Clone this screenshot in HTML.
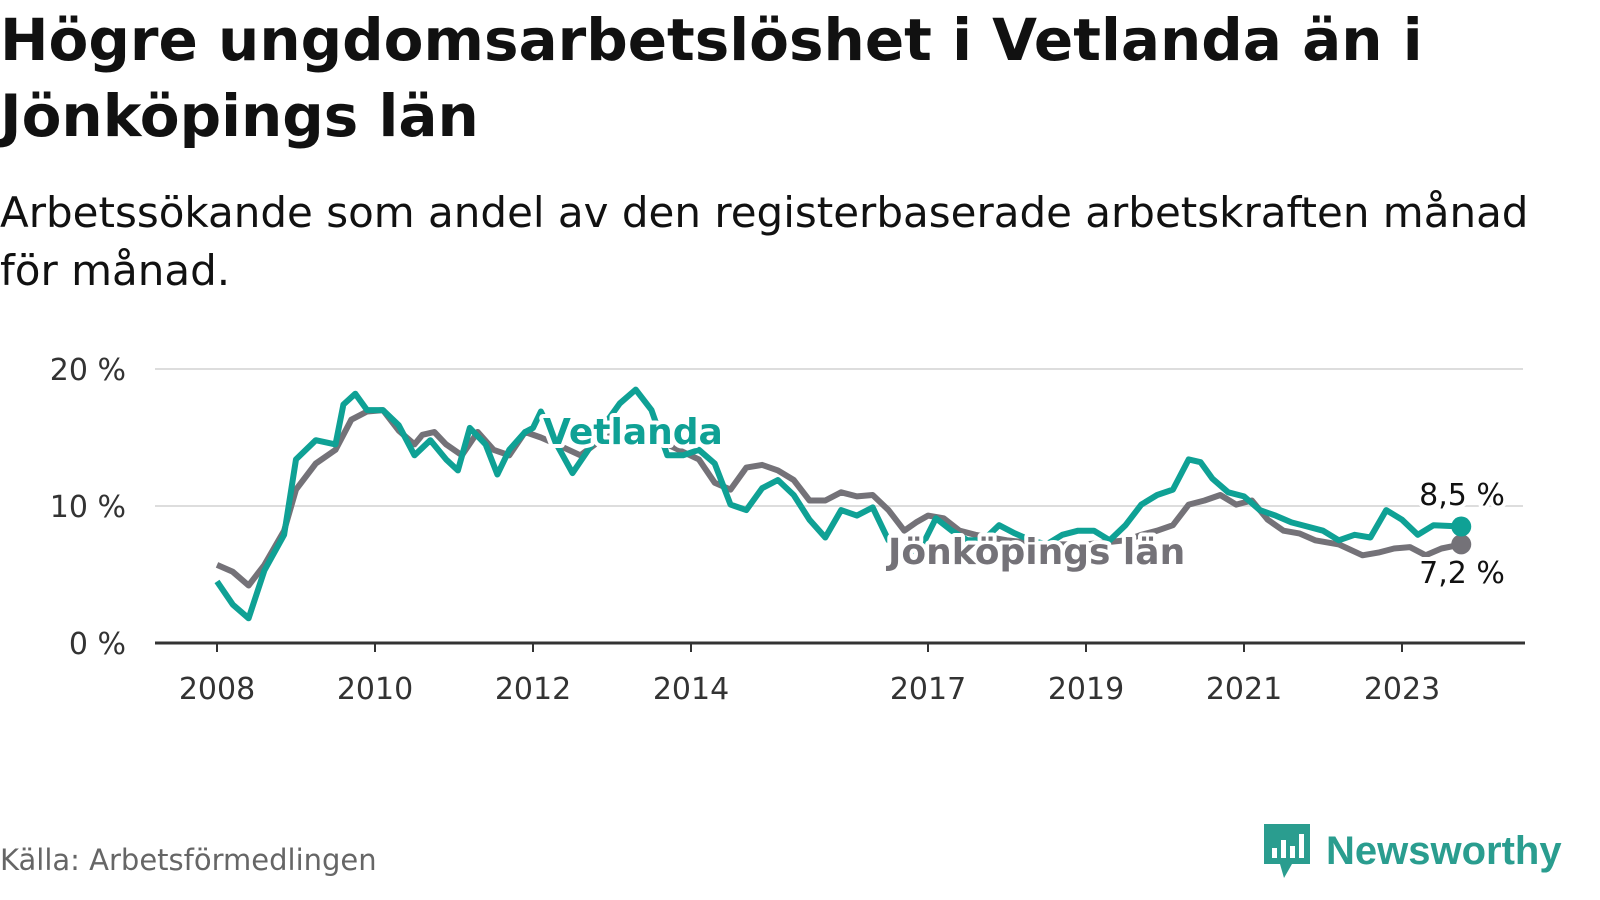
<!DOCTYPE html>
<html><head><meta charset="utf-8"><style>
body{margin:0;width:1600px;height:900px;background:#fff;font-family:"DejaVu Sans",sans-serif;overflow:hidden;position:relative}
h1{position:absolute;left:0;top:2px;margin:0;font-size:58px;line-height:76px;font-weight:bold;color:#111}
.sub{position:absolute;left:0;top:184px;font-size:42px;line-height:58px;color:#111}
.src{position:absolute;left:0;top:843px;font-size:29px;color:#666}
.logo{position:absolute;left:1262px;top:822px;display:flex;align-items:center}
.logo span{font-family:"Liberation Sans",sans-serif;font-size:40px;font-weight:bold;color:#2a9d8f;margin-left:14px}
</style></head><body>
<h1>Högre ungdomsarbetslöshet i Vetlanda än i<br>Jönköpings län</h1>
<div class="sub">Arbetssökande som andel av den registerbaserade arbetskraften månad<br>för månad.</div>
<svg id="chart" width="1600" height="900" style="position:absolute;left:0;top:0;font-family:'DejaVu Sans',sans-serif" xmlns="http://www.w3.org/2000/svg"></svg>
<div class="src">Källa: Arbetsförmedlingen</div>
<div class="logo">
<svg width="50" height="58" viewBox="0 0 50 58"><path d="M2 2h46v40H30l-8 14-4-14H2z" fill="#2a9d8f"/><rect x="10" y="26" width="5" height="10" fill="#fff"/><rect x="19" y="18" width="5" height="18" fill="#fff"/><rect x="28" y="24" width="5" height="12" fill="#fff"/><rect x="37" y="12" width="5" height="24" fill="#fff"/></svg>
<span>Newsworthy</span></div>
<script>
const yTicks=[0,10,20];
const xTickYears=[2008,2010,2012,2014,2017,2019,2021,2023];
const vetT=[2008.0,2008.2,2008.4,2008.6,2008.85,2009.0,2009.25,2009.5,2009.6,2009.75,2009.9,2010.1,2010.3,2010.5,2010.7,2010.9,2011.05,2011.2,2011.4,2011.55,2011.7,2011.9,2012.0,2012.1,2012.3,2012.5,2012.7,2012.9,2013.1,2013.3,2013.5,2013.7,2013.9,2014.1,2014.3,2014.5,2014.7,2014.9,2015.1,2015.3,2015.5,2015.7,2015.9,2016.1,2016.3,2016.5,2016.7,2016.9,2017.1,2017.3,2017.5,2017.7,2017.9,2018.1,2018.3,2018.5,2018.7,2018.9,2019.1,2019.3,2019.5,2019.7,2019.9,2020.1,2020.3,2020.45,2020.6,2020.8,2021.0,2021.2,2021.4,2021.6,2021.8,2022.0,2022.2,2022.4,2022.6,2022.8,2023.0,2023.2,2023.4,2023.75];
const vetV=[4.5,2.8,1.8,5.3,7.9,13.4,14.8,14.5,17.4,18.2,17.0,17.0,15.9,13.7,14.8,13.4,12.6,15.7,14.5,12.3,14.1,15.4,15.7,16.9,14.5,12.4,14.1,15.9,17.5,18.5,17.0,13.7,13.7,14.1,13.1,10.1,9.7,11.3,11.9,10.8,9.0,7.7,9.7,9.3,9.9,7.5,6.6,6.8,9.1,8.2,7.5,7.5,8.6,8.0,7.5,7.2,7.9,8.2,8.2,7.5,8.6,10.1,10.8,11.2,13.4,13.2,12.0,11.0,10.7,9.7,9.3,8.8,8.5,8.2,7.5,7.9,7.7,9.7,9.0,7.9,8.6,8.5];
const jkpT=[2008.0,2008.2,2008.4,2008.6,2008.85,2009.0,2009.25,2009.5,2009.7,2009.9,2010.1,2010.3,2010.5,2010.6,2010.75,2010.9,2011.1,2011.3,2011.5,2011.7,2011.9,2012.1,2012.3,2012.6,2012.9,2013.3,2013.7,2014.1,2014.3,2014.5,2014.7,2014.9,2015.1,2015.3,2015.5,2015.7,2015.9,2016.1,2016.3,2016.5,2016.7,2016.85,2017.0,2017.2,2017.4,2017.6,2018.0,2018.5,2019.0,2019.5,2019.7,2019.9,2020.1,2020.3,2020.5,2020.7,2020.9,2021.1,2021.3,2021.5,2021.7,2021.9,2022.2,2022.5,2022.7,2022.9,2023.1,2023.3,2023.5,2023.75];
const jkpV=[5.7,5.2,4.2,5.7,8.2,11.2,13.1,14.1,16.3,16.9,17.0,15.5,14.5,15.2,15.4,14.5,13.7,15.4,14.1,13.7,15.4,15.0,14.5,13.7,15.0,15.5,14.5,13.4,11.7,11.2,12.8,13.0,12.6,11.9,10.4,10.4,11.0,10.7,10.8,9.7,8.2,8.8,9.3,9.1,8.2,7.9,7.5,7.2,7.2,7.5,7.9,8.2,8.6,10.1,10.4,10.8,10.1,10.4,9.0,8.2,8.0,7.5,7.2,6.4,6.6,6.9,7.0,6.4,6.9,7.2];
const svg=document.getElementById('chart');const NS='http://www.w3.org/2000/svg';
const X=t=>217+(t-2008)*79, Y=v=>643-v*13.7;
function mk(tag,a){const e=document.createElementNS(NS,tag);for(const k in a)e.setAttribute(k,a[k]);svg.appendChild(e);return e;}
yTicks.forEach(v=>{
 if(v>0){const g=mk('line',{x1:155,x2:1523,y1:Y(v),y2:Y(v),stroke:'#ddd','stroke-width':2});
 
 }
 const t=mk('text',{x:126,y:Y(v)+11,'text-anchor':'end','font-size':30,fill:'#333'});t.textContent=v+' %';
 
 
});
const ax=mk('line',{x1:155,x2:1525,y1:643,y2:643,stroke:'#333','stroke-width':3});


xTickYears.forEach(yr=>{
 const l=mk('line',{x1:X(yr),x2:X(yr),y1:643,y2:652,stroke:'#333','stroke-width':2});
 
 
 const t=mk('text',{x:X(yr),y:699,'text-anchor':'middle','font-size':30,fill:'#333'});t.textContent=yr;
 
 
});
function line(T,V,col,name){
 const d=T.map((t,i)=>(i?'L':'M')+X(t).toFixed(1)+','+Y(V[i]).toFixed(1)).join('');
 const p=mk('path',{d:d,fill:'none',stroke:col,'stroke-width':6,'stroke-linejoin':'round'});
 
 
 const c=mk('circle',{cx:X(T[T.length-1]),cy:Y(V[V.length-1]),r:10,fill:col});
 
 
}
line(jkpT,jkpV,'#747278','jonkoping-line');
line(vetT,vetV,'#0fa195','vetlanda-line');
function lab(x,y,txt,col,name,w,anchor,size){
 const t=mk('text',{x:x,y:y,'font-size':size,'font-weight':w,fill:col,stroke:'#fff','stroke-width':8,'paint-order':'stroke','stroke-linejoin':'round','text-anchor':anchor||'start'});
 t.textContent=txt;
 
 
}
lab(543,444,'Vetlanda','#0fa195','vetlanda-label','bold','start',36);
lab(888,564,'Jönköpings län','#747278','jonkoping-label','bold','start',36);
lab(1462,505,'8,5 %','#111','vetlanda-value-label','normal','middle',30);
lab(1462,583,'7,2 %','#111','jonkoping-value-label','normal','middle',30);
</script>
</body></html>
